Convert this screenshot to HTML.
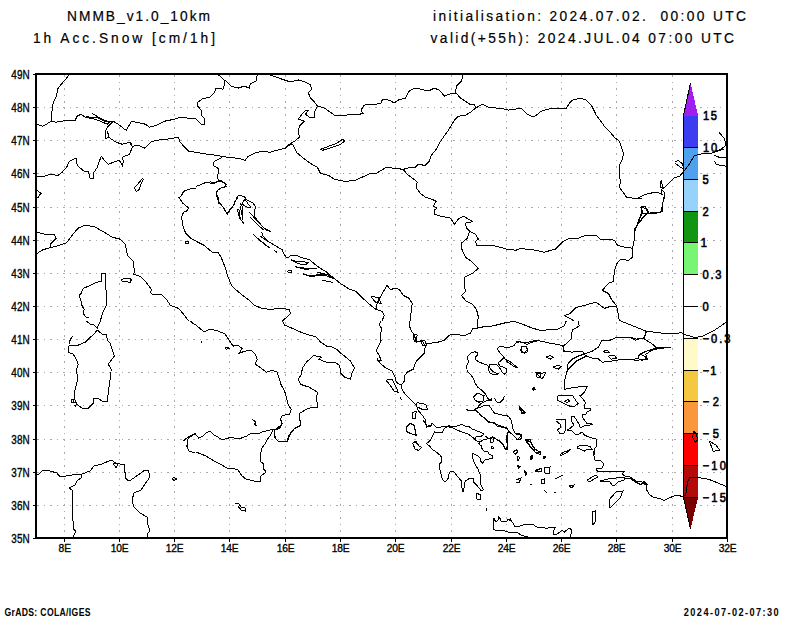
<!DOCTYPE html>
<html><head><meta charset="utf-8"><style>html,body{margin:0;padding:0;background:#fff;width:800px;height:618px;overflow:hidden}svg{display:block}text{white-space:pre}</style></head>
<body><svg width="800" height="618" viewBox="0 0 800 618" shape-rendering="crispEdges">
<g stroke="#aaa" stroke-width="1" stroke-dasharray="1.5 5"><line x1="64.5" y1="75" x2="64.5" y2="537"/><line x1="119.5" y1="75" x2="119.5" y2="537"/><line x1="174.5" y1="75" x2="174.5" y2="537"/><line x1="229.5" y1="75" x2="229.5" y2="537"/><line x1="285.5" y1="75" x2="285.5" y2="537"/><line x1="340.5" y1="75" x2="340.5" y2="537"/><line x1="395.5" y1="75" x2="395.5" y2="537"/><line x1="451.5" y1="75" x2="451.5" y2="537"/><line x1="506.5" y1="75" x2="506.5" y2="537"/><line x1="561.5" y1="75" x2="561.5" y2="537"/><line x1="616.5" y1="75" x2="616.5" y2="537"/><line x1="672.5" y1="75" x2="672.5" y2="537"/><line x1="37" y1="505.5" x2="726" y2="505.5"/><line x1="37" y1="472.5" x2="726" y2="472.5"/><line x1="37" y1="439.5" x2="726" y2="439.5"/><line x1="37" y1="405.5" x2="726" y2="405.5"/><line x1="37" y1="372.5" x2="726" y2="372.5"/><line x1="37" y1="339.5" x2="726" y2="339.5"/><line x1="37" y1="306.5" x2="726" y2="306.5"/><line x1="37" y1="273.5" x2="726" y2="273.5"/><line x1="37" y1="240.5" x2="726" y2="240.5"/><line x1="37" y1="207.5" x2="726" y2="207.5"/><line x1="37" y1="173.5" x2="726" y2="173.5"/><line x1="37" y1="140.5" x2="726" y2="140.5"/><line x1="37" y1="107.5" x2="726" y2="107.5"/></g>
<rect x="684" y="115.5" width="14" height="31.5" fill="#3c3cf0"/><rect x="684" y="147" width="14" height="32" fill="#50a0f0"/><rect x="684" y="179" width="14" height="32" fill="#96d2fa"/><rect x="684" y="211" width="14" height="31" fill="#109610"/><rect x="684" y="242" width="14" height="32" fill="#78f573"/><rect x="684" y="274" width="14" height="64" fill="#ffffff"/><rect x="684" y="338" width="14" height="32" fill="#fffac8"/><rect x="684" y="370" width="14" height="31" fill="#f5c841"/><rect x="684" y="401" width="14" height="32" fill="#fa963c"/><rect x="684" y="433" width="14" height="32.5" fill="#ff0000"/><rect x="684" y="465.5" width="14" height="32.0" fill="#b40a0a"/><polygon points="684,115.5 698,115.5 690.5,83" fill="#a01ef0"/><polygon points="684,497.5 698,497.5 690.5,529" fill="#780000"/><polyline points="690.5,83 683.5,115.5 683.5,497.5 690.5,529" fill="none" stroke="#000" stroke-width="1"/><line x1="683" y1="147.5" x2="698" y2="147.5" stroke="#000" stroke-width="1"/><line x1="683" y1="179.5" x2="698" y2="179.5" stroke="#000" stroke-width="1"/><line x1="683" y1="211.5" x2="698" y2="211.5" stroke="#000" stroke-width="1"/><line x1="683" y1="242.5" x2="698" y2="242.5" stroke="#000" stroke-width="1"/><line x1="683" y1="274.5" x2="698" y2="274.5" stroke="#000" stroke-width="1"/><line x1="683" y1="306.5" x2="698" y2="306.5" stroke="#000" stroke-width="1"/><line x1="683" y1="338.5" x2="698" y2="338.5" stroke="#000" stroke-width="1"/><line x1="683" y1="370.5" x2="698" y2="370.5" stroke="#000" stroke-width="1"/><line x1="683" y1="401.5" x2="698" y2="401.5" stroke="#000" stroke-width="1"/><line x1="683" y1="433.5" x2="698" y2="433.5" stroke="#000" stroke-width="1"/><line x1="683" y1="465.5" x2="698" y2="465.5" stroke="#000" stroke-width="1"/><line x1="683" y1="497.5" x2="698" y2="497.5" stroke="#000" stroke-width="1"/><g font-family="Liberation Sans" fill="#000" stroke="#000" stroke-width="0.6"><text transform="scale(0.9 1)" x="781.11" y="120.5" font-size="12.4" font-weight="normal" textLength="15.56" lengthAdjust="spacing" >15</text><text transform="scale(0.9 1)" x="781.11" y="152" font-size="12.4" font-weight="normal" textLength="15.89" lengthAdjust="spacing" >10</text><text transform="scale(0.9 1)" x="780.56" y="184" font-size="12.4" font-weight="normal" textLength="7.78" lengthAdjust="spacing" >5</text><text transform="scale(0.9 1)" x="780.56" y="216" font-size="12.4" font-weight="normal" textLength="7.78" lengthAdjust="spacing" >2</text><text transform="scale(0.9 1)" x="778.67" y="247" font-size="12.4" font-weight="normal" textLength="6.11" lengthAdjust="spacing" >1</text><text transform="scale(0.9 1)" x="780.56" y="279" font-size="12.4" font-weight="normal" textLength="21.11" lengthAdjust="spacing" >0.3</text><text transform="scale(0.9 1)" x="780.56" y="311" font-size="12.4" font-weight="normal" textLength="7.78" lengthAdjust="spacing" >0</text><text transform="scale(0.9 1)" x="780.56" y="343" font-size="12.4" font-weight="normal" textLength="31.11" lengthAdjust="spacing" >−0.3</text><text transform="scale(0.9 1)" x="780.56" y="375" font-size="12.4" font-weight="normal" textLength="15.56" lengthAdjust="spacing" >−1</text><text transform="scale(0.9 1)" x="780.56" y="406" font-size="12.4" font-weight="normal" textLength="18.33" lengthAdjust="spacing" >−2</text><text transform="scale(0.9 1)" x="780.56" y="438" font-size="12.4" font-weight="normal" textLength="18.33" lengthAdjust="spacing" >−5</text><text transform="scale(0.9 1)" x="780.56" y="470" font-size="12.4" font-weight="normal" textLength="26.11" lengthAdjust="spacing" >−10</text><text transform="scale(0.9 1)" x="780.56" y="502" font-size="12.4" font-weight="normal" textLength="26.11" lengthAdjust="spacing" >−15</text></g>
<defs><clipPath id="mapclip"><rect x="36" y="74" width="691" height="464"/></clipPath></defs><g fill="none" stroke="#000" stroke-width="1" shape-rendering="crispEdges" clip-path="url(#mapclip)"><polyline points="69.1,75.0 64.1,81.0 58.1,88.1 56.1,97.1 53.1,103.1 52.1,110.1 51.1,116.2 52.1,121.2 53.1,121.6"/><polyline points="36.0,124.2 43.0,126.2 48.0,123.2 51.1,121.2 56.1,122.2 62.1,121.2 69.1,120.2 75.2,120.2 77.2,116.2 81.2,114.2 85.2,117.2 90.2,118.2 96.2,117.2 104.3,121.2 113.3,121.2 118.3,124.2 124.4,129.2 126.4,130.2 131.4,121.2 136.4,122.2 145.4,124.2 149.5,127.2 156.5,125.2 164.5,121.2 174.6,119.2 180.6,117.2 188.6,118.2 196.0,118.2"/><polyline points="92.2,113.6 100.3,118.2 109.3,122.2 107.3,124.2 100.3,121.2 86.2,116.2"/><polyline points="112.3,122.2 107.3,127.2 105.3,131.2 105.3,138.3 109.3,137.7 107.3,131.2"/><polyline points="109.3,137.7 116.3,142.3 122.3,144.3 129.4,142.3 132.4,146.3 138.4,145.3 144.4,148.3 150.5,142.3 156.5,140.3 166.5,139.3 178.6,137.3 179.6,141.3 184.6,147.3 188.6,151.3 196.0,152.3"/><polyline points="36.0,176.4 44.0,176.4 50.1,174.4 58.1,175.4 62.1,172.4 67.1,166.4 69.1,161.4 73.1,159.3 76.2,158.3 77.2,165.4 84.2,171.4 88.2,171.4 90.2,178.4 93.2,178.4 93.2,173.4 97.2,167.4 99.3,161.4 101.3,156.3 105.3,161.4 108.3,164.4 115.3,161.4 119.3,160.3 122.3,165.4 123.3,161.4 122.3,157.3 129.4,154.3 132.4,147.3 130.8,142.3"/><polyline points="142.4,178.4 138.4,183.4 134.4,187.5 136.4,191.5 139.4,189.5 140.4,185.4 143.4,179.4"/><polyline points="36.0,189.1 41.0,193.5 38.0,197.1"/><polyline points="180.6,197.1 183.6,191.5 188.6,189.1 196.0,188.5"/><polyline points="196.0,325.0 204.0,332.0 210.1,329.0 218.1,331.0 225.1,334.1 229.1,340.1 233.1,346.1 237.2,345.1 242.2,348.1 239.2,353.1 245.2,351.1 251.2,350.1 255.2,354.1 257.2,359.2 255.2,364.2 261.3,368.2 266.3,372.2 272.3,370.2 277.3,372.2 279.3,379.2 281.3,385.3 284.4,390.3 286.4,397.3 288.4,405.3 291.4,409.4 289.4,414.4 282.3,415.4 280.3,419.4 282.3,423.4 280.3,427.4 274.3,430.4 275.3,438.5 278.3,441.5 287.4,441.5 289.4,435.5 294.4,428.4 300.4,425.4 299.4,413.4 306.4,409.4 311.5,407.3 317.5,407.3 316.5,397.3 317.5,392.3 309.5,387.3 300.4,384.3 298.4,379.2 301.4,374.2 302.4,368.2 306.4,362.2 313.5,355.5 321.5,357.1 318.5,359.2 326.5,362.2 334.6,362.2 339.6,365.2 340.6,373.2 344.6,377.2 350.6,379.2 351.6,374.2 354.6,368.2 350.6,361.2 344.6,356.1 340.6,353.1 337.6,350.1 332.5,347.1 326.5,346.1 320.5,342.1 316.5,337.1 309.5,335.1 300.4,332.0 291.4,328.0 284.4,325.0 282.3,321.0"/><polyline points="201.0,341.1 201.6,343.1"/><polyline points="225.1,347.5 228.1,347.1 229.1,348.7 226.1,349.1 225.1,347.5"/><polyline points="252.2,419.4 255.2,421.4 256.2,426.4 254.2,423.4"/><polyline points="187.5,447.0 187.5,445.0 188.1,438.1 191.3,436.3 195.0,433.8 198.8,438.1 202.5,436.3 206.3,432.5 210.0,431.3 213.8,435.0 217.5,436.9 221.3,439.4 226.3,438.8 230.0,437.5 235.0,438.1 241.3,438.1 246.3,436.3 250.0,433.8 258.8,433.8 262.5,431.9 267.5,430.6 273.1,429.4 276.3,430.0 280.0,428.1"/><polyline points="273.1,429.4 270.3,435.5 267.0,440.0 265.3,444.0"/><polyline points="381.1,321.0 379.1,325.0 382.1,329.0 380.1,334.1 381.1,341.1 378.1,347.1 376.1,351.1 379.1,355.1 381.1,360.2 378.1,361.2 377.1,358.1 380.1,363.2 386.1,368.2 392.1,371.2 395.2,377.2 396.2,382.2 401.2,385.3 402.2,390.3 406.2,395.3 411.2,400.3 416.2,405.3 418.2,410.4 422.3,415.4 425.3,419.4 426.3,426.4 431.3,425.0"/><polyline points="416.2,405.3 417.2,402.9 422.3,403.3 426.3,405.3 427.3,409.4 422.3,409.4 418.2,407.3"/><polyline points="409.2,321.0 410.2,329.0 414.2,335.1 416.2,341.1 422.3,341.1 425.3,346.1 424.3,353.1 420.3,357.1 416.2,361.2 413.2,369.2 407.2,372.2 404.2,376.2 404.2,381.2 401.2,385.3"/><polyline points="413.2,334.1 417.2,335.1 416.2,342.1 414.2,341.1 413.2,334.1"/><polyline points="420.3,340.1 425.3,341.1 426.3,345.1 422.3,345.1 420.3,340.1"/><polyline points="424.3,344.1 431.3,343.1 438.3,342.1 444.4,340.1 449.4,335.1 456.4,334.1 460.4,335.1 465.4,335.1 470.5,333.0 472.5,329.0 482.5,327.0 492.5,326.0 504.6,323.0 516.0,321.0"/><polyline points="477.5,321.0 477.5,328.0"/><polyline points="386.1,380.2 392.1,379.2 396.2,387.3 398.2,392.3 394.2,391.3 390.1,385.3 386.1,380.2"/><polyline points="400.2,397.3 401.2,399.7"/><polyline points="412.2,412.4 416.2,411.4 415.2,418.4 412.2,418.4 412.2,412.4"/><polyline points="406.2,427.4 410.2,423.4 414.2,425.4 416.2,435.5 410.2,433.4 406.2,431.4 406.2,427.4"/><polyline points="414.2,442.5 416.2,441.5 418.2,445.1"/><polyline points="475.0,351.7 477.6,353.0 477.6,355.5 475.0,356.8 475.0,359.4 478.9,362.0 484.0,364.0 487.9,365.3 488.6,370.4 489.9,373.0 493.1,374.3 497.6,375.0 498.3,373.7 494.4,372.4 491.8,370.4 489.2,367.2 489.9,364.0 493.8,364.0 497.6,365.3 499.6,367.8 501.5,371.1 504.1,374.3 506.1,373.0 506.1,368.5 503.5,367.2 499.6,365.9 498.3,362.7 500.9,360.7 503.5,358.1 509.9,361.4 514.5,365.3 517.7,367.8 515.1,367.2 507.4,362.0 503.5,356.8 500.2,353.0 497.6,349.7 498.3,347.1 502.2,346.5 506.1,347.8 509.9,347.1 513.8,345.8 516.4,342.6 519.0,341.9 522.9,342.6 526.8,344.5 530.7,342.6 534.6,341.3 540.0,340.6"/><polyline points="524.2,346.2 526.8,347.1 527.8,349.7 526.8,352.3 524.2,353.2 521.6,352.3 520.6,349.7 521.6,347.1 524.2,346.2"/><polyline points="475.0,351.7 471.1,353.0 467.8,356.2 467.8,359.4 468.5,362.0 466.6,365.9 467.2,371.1 471.1,375.0 473.7,378.9 475.0,382.7 477.6,387.3 481.5,389.9 484.7,393.1 486.6,396.3 488.6,399.6 491.2,398.9 491.8,400.2 489.2,400.9 486.6,400.9 483.4,402.2 480.2,404.1 477.6,407.4 475.0,409.9 471.1,410.6 467.2,409.9"/><polyline points="473.7,397.0 477.6,393.1 484.0,395.7 483.4,400.9 478.9,402.2 475.0,400.2 473.7,397.0"/><polyline points="494.4,398.3 497.0,402.2 499.6,402.8 503.5,398.9 504.1,396.3"/><polyline points="519.0,406.7 525.5,412.5 522.9,413.8 519.0,408.7 519.0,406.7"/><polyline points="535.9,372.4 540.0,372.4 540.0,377.6 537.2,377.6 535.9,372.4"/><polyline points="533.3,387.9 535.2,389.0 533.5,390.0 533.3,387.9"/><polyline points="516.0,322.0 522.0,324.0 532.1,328.0 542.1,331.0 550.1,329.0 558.2,329.0 564.2,326.0 566.2,321.0"/><polyline points="578.2,321.0 579.3,326.0 572.2,330.0 571.2,339.1 567.2,343.1 563.2,346.1 563.2,351.1 572.2,352.1 582.3,351.1 584.3,354.1"/><polyline points="584.3,354.1 592.3,351.1 598.3,347.1 602.3,340.1 610.4,340.1 617.4,337.1 630.5,337.1 636.5,339.1 644.5,338.1 646.5,331.0"/><polyline points="644.5,339.1 652.5,344.1 656.6,348.1 670.6,347.1"/><polyline points="584.3,354.1 578.2,356.1 572.2,359.2 568.2,363.2 567.2,370.2 571.2,366.2 576.2,361.2 582.3,358.1 586.3,355.1"/><polyline points="567.2,371.2 565.2,377.2 564.2,389.3 574.2,387.3 587.3,386.3 584.3,392.3 580.3,396.3 579.3,395.3"/><polyline points="576.2,361.2 586.3,356.1 592.3,358.1 597.3,358.1 602.3,362.2 610.4,361.2 616.4,360.2 624.4,359.2 636.5,360.2 647.5,359.2 644.5,356.1 640.5,354.1 646.5,351.1 656.6,349.1 670.6,347.1"/><polyline points="603.8,351.1 607.4,350.5 609.4,352.1 605.4,352.7 603.8,351.1"/><polyline points="608.4,356.1 614.4,355.5 616.4,358.1 611.4,359.2 608.4,356.1"/><polyline points="521.0,347.1 525.0,346.1 527.6,349.1 525.0,352.7 521.0,351.1 521.0,347.1"/><polyline points="546.1,357.1 550.1,355.5 553.1,357.5 550.1,359.2 546.1,357.1"/><polyline points="553.1,367.2 558.2,365.2 561.2,366.8 558.2,369.2 553.1,367.2"/><polyline points="536.1,373.2 541.1,373.6 546.1,372.2 542.1,379.2 539.1,376.2 536.1,373.2"/><polyline points="532.1,388.3 534.5,387.3 535.1,389.7 533.1,390.3 532.1,388.3"/><polyline points="520.0,407.3 525.0,412.4 522.0,413.4 520.0,407.3"/><polyline points="516.0,433.4 521.0,435.5 518.0,439.5"/><polyline points="526.0,439.5 530.1,441.5 533.1,445.1"/><polyline points="620.0,320.7 632.9,325.9 645.9,331.1 661.4,333.1 676.9,333.6 680.8,332.3 686.0,334.9 695.1,337.5 702.8,336.2 713.2,331.1 720.9,325.9 726.1,322.0 731.3,319.4"/><polyline points="645.9,331.1 644.6,337.5 635.5,340.1 630.4,337.5 620.0,337.5"/><polyline points="620.0,359.5 630.4,360.0 638.1,358.2 639.4,354.3 644.6,351.8 656.2,347.9 670.5,347.1 653.6,349.2 645.9,354.3 647.2,358.2 640.7,360.8"/><polyline points="693.8,430.7 696.3,434.6 697.6,439.8 695.1,442.3 692.5,437.2 693.8,430.7"/><polyline points="709.3,441.0 715.8,444.9 719.6,450.1 713.2,451.4 709.3,441.0"/><polyline points="516.0,341.4 526.7,342.8 536.0,340.0 548.0,342.8 562.8,345.5 564.0,350.8 570.8,352.0"/><polyline points="36.0,475.0 39.0,474.0 43.0,470.0 50.0,471.0 57.0,473.0 60.0,477.0 66.0,476.0 72.0,475.0 82.0,474.0 90.0,471.0 94.0,466.0 102.0,464.0 111.0,460.0 116.0,463.0 120.0,464.0 125.0,465.0 124.0,470.0 126.0,475.0 125.0,478.0 129.0,481.0 134.0,478.0 138.0,475.0 145.0,470.0 148.0,470.0 150.0,476.0 148.0,480.0 145.0,484.0 141.0,490.0 134.0,493.0 132.0,500.0 134.0,507.0 140.0,513.0 147.0,517.0 148.0,525.0 150.0,531.0 147.0,534.0 147.0,539.0"/><polyline points="113.0,464.0 115.0,462.6 118.0,465.0 116.0,467.4 113.0,464.0"/><polyline points="82.0,474.0 81.0,478.0 77.0,481.0 75.0,485.0 69.0,488.0 72.0,490.0 73.0,497.0 72.0,505.0 72.0,513.0 73.0,521.0 73.0,529.0 76.0,531.0 72.0,539.0"/><polyline points="172.0,478.6 174.0,477.0 176.4,479.0 174.0,480.6 172.0,478.6"/><polyline points="186.0,445.0 189.0,451.0 195.4,453.0"/><polyline points="265.0,444.0 262.0,448.0 260.0,456.0 261.0,462.0 264.0,464.0 263.0,468.0 266.0,472.0 261.0,476.0 260.0,482.0 254.0,481.0 246.0,479.0 242.0,476.0 238.0,470.0 232.0,468.0 227.0,468.0 220.0,464.0 214.0,461.0 206.0,456.0 196.0,452.0"/><polyline points="282.0,420.0 281.0,425.0 276.0,429.0 274.0,429.0 275.0,438.0 278.0,441.0 287.0,441.0 289.0,435.0 294.0,429.0 300.0,426.0 301.0,420.0"/><polyline points="235.0,503.0 239.0,504.0 241.0,507.0 245.0,508.0 245.0,511.0 241.0,510.0 238.0,506.0"/><polyline points="476.0,493.0 481.0,495.0 480.0,500.0 477.0,499.0 476.0,493.0"/><polyline points="486.0,508.0 487.0,511.0"/><polyline points="475.0,409.1 478.9,407.8 485.3,405.2 489.2,405.8 494.4,413.0 500.9,414.9 508.7,416.2 511.2,420.7 513.2,429.8 515.1,433.0 521.0,434.3 521.6,438.9 517.7,439.5 514.5,436.3 509.9,432.4 506.7,427.8 502.2,426.6 495.7,424.0 487.9,421.4 484.0,418.1 478.9,413.0 475.0,409.1"/><polyline points="465.9,409.7 469.8,411.0 475.0,410.4 478.9,413.0 481.5,416.2 486.6,419.4 487.9,422.0 494.4,422.7 497.0,425.9 502.2,427.2 506.7,428.5 509.9,431.7 507.4,433.7 506.1,438.9 507.4,444.0 507.4,449.9 505.4,449.9 503.5,445.3 499.6,441.5 495.7,438.9 493.8,437.6 491.2,438.2 489.2,438.9 484.7,435.6"/><polyline points="519.0,406.5 525.5,412.3 522.9,413.6 519.0,408.4 519.0,406.5"/><polyline points="513.2,451.8 516.4,449.9 517.7,451.8 515.1,454.4 513.2,451.8"/><polyline points="517.7,455.7 519.3,457.6 518.8,459.8 517.1,460.9 517.7,455.7"/><polyline points="517.7,464.8 520.3,466.7 518.4,468.7 517.7,464.8"/><polyline points="524.2,470.6 526.8,473.8 525.5,475.1 524.2,470.6"/><polyline points="530.7,455.7 532.6,455.7 532.0,459.6 530.7,459.6 530.7,455.7"/><polyline points="525.5,438.9 530.7,442.7 534.6,449.2 540.0,451.8 540.0,454.4 535.9,453.1 530.7,447.3 526.1,441.5 525.5,438.9"/><polyline points="534.6,470.6 540.0,468.7"/><polyline points="426.2,443.3 429.4,441.4 431.4,438.8 432.7,435.5 434.6,431.7 437.8,433.0 442.4,432.3 444.3,428.4 447.6,426.5 452.7,427.8 457.9,430.4 463.1,432.3 468.3,434.2 473.5,438.1 477.4,441.4 479.9,442.0 478.7,444.0 481.2,445.9 481.9,448.5 484.5,451.7 487.7,451.7 489.0,454.3 492.3,455.6 492.9,458.2 489.0,458.9 484.5,460.2 482.5,463.4 481.2,462.7 480.6,458.9 477.4,455.6 472.2,453.0 472.2,456.3 474.8,464.0 478.0,469.2 480.6,475.7 480.6,480.9 481.2,486.1 483.8,489.9 481.2,490.6 477.4,486.1 473.5,482.2 473.5,478.9 469.6,478.3 465.7,480.9 464.4,483.5 463.8,489.9 463.1,491.9 461.8,487.4 461.2,480.9 457.9,477.0 454.0,471.8 450.2,471.8 448.9,474.4 448.2,478.3 446.3,480.9 444.3,481.5 442.4,479.6 441.1,474.4 439.8,469.2 439.1,464.7 441.7,461.5 441.7,457.6 439.8,455.0 435.9,451.7 432.7,449.8 429.4,445.9 426.2,443.3"/><polyline points="423.0,420.0 425.5,423.9 426.8,427.1 430.7,426.5 432.0,423.2 434.0,425.2 435.9,427.1 439.8,427.1 445.0,426.5 448.9,425.8 454.0,426.5 457.9,425.8 461.8,424.5 464.4,425.8 467.0,427.1 468.9,426.5 472.2,429.1 477.4,431.0 480.6,432.3 483.8,434.2 481.2,436.2 476.1,436.8 474.8,439.4 477.4,441.4"/><polyline points="479.9,442.0 483.8,439.4 489.0,438.8 492.9,436.8 495.5,438.8 500.7,441.4 503.3,444.6 505.9,449.8 507.2,447.2 507.2,434.2 508.4,430.4 505.9,427.1"/><polyline points="490.3,438.1 494.2,437.5 492.9,442.0 491.0,442.7 490.3,438.1"/><polyline points="491.0,446.6 493.5,447.2 492.9,449.1 491.6,448.5 491.0,446.6"/><polyline points="412.6,443.3 415.2,441.4 419.1,445.9 421.7,447.2 418.4,450.4 415.2,449.1 412.6,443.3"/><polyline points="593.0,451.0 595.0,460.0 600.0,460.0 604.0,464.0 602.0,468.0 596.0,469.0 598.0,472.0 604.0,471.0 616.0,471.0 625.0,471.0 622.0,474.0 625.0,476.0 630.0,477.0 636.0,481.0 642.0,482.0 646.0,485.0"/><polyline points="600.0,481.0 608.0,479.0 616.0,478.0 620.0,477.0 625.0,478.0 624.0,480.0 618.0,482.0 614.0,486.0 612.0,485.0 610.0,482.0 600.0,481.0"/><polyline points="587.0,480.0 596.0,475.0 598.0,477.0 589.0,482.0 587.0,480.0"/><polyline points="609.0,500.0 616.0,492.0 623.0,491.0 620.0,498.0 614.0,504.0 610.0,508.0 609.0,500.0"/><polyline points="592.0,512.0 595.0,511.0 595.0,522.0 593.0,525.0 592.0,512.0"/><polyline points="526.0,440.0 530.0,439.0 532.0,445.0 535.0,449.0 540.0,452.0 536.0,453.0 530.0,446.0 526.0,440.0"/><polyline points="516.0,434.0 521.0,434.0 522.0,438.0 518.0,440.0 516.0,439.0"/><polyline points="543.0,456.0 546.0,457.0 544.0,458.4 543.0,456.0"/><polyline points="544.0,468.0 550.0,467.0 549.0,474.0 545.0,473.0 544.0,468.0"/><polyline points="535.0,472.0 541.0,468.0 542.0,471.0 535.0,472.0"/><polyline points="555.0,479.0 563.0,475.0"/><polyline points="541.0,480.0 544.0,479.0 544.0,483.0 541.0,483.0 541.0,480.0"/><polyline points="544.0,490.0 547.0,493.0"/><polyline points="569.0,486.0 574.0,485.0 572.0,488.0 569.0,486.0"/><polyline points="531.0,455.6 533.0,458.0 531.0,459.0 531.0,455.6"/><polyline points="516.0,480.0 521.0,478.0 519.0,483.0 516.0,482.0"/><polyline points="517.0,450.0 518.0,452.0"/><polyline points="517.0,458.0 518.4,460.0"/><polyline points="518.0,466.0 520.0,468.0"/><polyline points="525.0,471.0 527.0,474.0"/><polyline points="530.0,484.0 531.6,485.0"/><polyline points="554.0,492.4 556.0,493.0"/><polyline points="527.5,537.0 521.0,535.0 518.0,533.0 508.0,532.0 503.0,530.5 495.0,530.0 493.0,529.0 493.5,524.0 494.0,518.5 495.5,521.5 498.0,520.5 498.5,516.5 500.0,518.5 501.0,521.0 506.5,521.5 508.0,519.5 510.5,519.0 511.5,521.5 513.5,523.5 514.5,526.5 520.0,526.0 524.5,524.5 528.0,524.5 530.0,525.0 533.0,524.5 536.5,527.0 544.0,527.5 546.5,528.5 549.0,527.5 555.0,527.5 554.0,530.0 553.5,534.5 557.0,534.0 560.0,532.0 562.0,530.5 564.5,532.0 568.0,529.0 570.0,528.5 571.5,530.0 571.0,534.0 570.0,537.0"/><polyline points="509.5,519.5 510.5,518.8 511.2,520.0 510.0,521.0 509.5,519.5"/><polyline points="623.7,478.2 630.1,478.2 634.4,481.4 640.7,484.6 643.9,481.4 647.1,484.6 646.1,488.9 649.2,494.2 653.5,497.4 659.9,498.4 664.1,500.6 670.5,497.4 675.8,495.2 682.2,496.3 685.4,495.2 686.4,491.0 687.5,482.5 689.6,477.2 696.0,477.2 708.7,479.3 719.4,483.6 726.8,486.7 730.0,487.8"/><polyline points="579.0,395.0 582.0,398.0 586.0,403.0 584.5,405.0 584.5,408.0 590.0,408.0 590.5,410.5 587.0,412.0 586.0,414.0 582.0,414.0 582.5,417.0 585.0,421.0 587.5,424.0 591.0,423.5 592.5,424.5 590.0,425.0 584.0,426.0 581.0,427.5 580.0,427.0 579.0,424.0 576.5,420.0 574.0,416.5 571.5,417.0 571.5,421.0 574.0,425.0 570.5,428.0 567.5,430.0 572.0,431.0 575.0,434.0 578.0,434.5 582.0,432.0 584.5,435.0 587.5,436.5 592.0,438.0 596.0,439.0 596.5,444.0 596.0,447.0 594.0,449.0 594.0,455.0 593.5,456.0"/><polyline points="558.0,396.0 566.0,395.5 573.0,396.0 576.0,401.0 578.0,403.5 575.0,406.0 572.0,407.0 567.0,405.0 563.0,403.0 557.5,400.0 558.0,396.0"/><polyline points="564.0,402.0 568.0,399.5 570.0,401.0 566.0,403.0"/><polyline points="556.0,420.0 560.0,419.0 565.0,419.5 566.0,422.0 565.5,429.0 564.5,433.0 560.0,433.5 557.5,430.0 561.0,427.0 560.0,424.0 556.0,421.0"/><polyline points="577.5,447.0 580.0,445.5 585.0,445.0 590.0,446.5 592.0,449.5 588.0,449.0 584.5,451.0 581.0,449.5 577.5,448.0 577.5,447.0"/><polyline points="560.0,455.0 564.0,452.0 571.0,449.5 566.0,453.0 562.0,455.0 560.0,455.0"/><polyline points="579.0,395.0 580.3,396.3"/><polyline points="216.1,74.0 220.1,76.0 224.1,80.0 225.1,83.0 223.1,89.1 216.1,88.1 214.1,93.1 210.1,97.1 202.0,99.1 198.0,102.1 197.0,105.1 201.0,110.1 201.0,115.2 204.0,118.2 204.0,124.2 201.0,124.2 197.0,120.2 196.0,119.6"/><polyline points="225.1,80.0 231.1,86.1 238.2,88.1 244.2,86.1 249.2,88.1 250.2,84.0 256.2,81.0 257.2,75.0 265.3,74.0 270.3,75.0 284.4,80.0 290.4,82.0 298.4,80.0 305.4,82.0 310.5,85.0 311.5,89.1 308.4,93.1 310.5,98.1 314.5,102.1 317.5,106.1 324.5,108.1 334.6,115.2 344.6,115.2 356.0,114.2"/><polyline points="317.5,106.1 314.5,112.2 314.5,117.2 309.5,117.2 305.4,114.2 308.4,110.1 304.4,111.2 300.4,116.2 298.4,119.2 304.4,121.2 299.4,126.2 298.4,131.2 299.4,137.3 294.4,141.3 289.4,144.3 285.4,148.3"/><polyline points="196.0,152.3 208.0,154.3 216.1,155.3 228.1,157.3 238.2,158.3 245.2,160.3 248.2,156.3 254.2,153.3 262.3,151.3 270.3,152.3 276.3,150.3 285.4,148.3 288.4,145.3 292.4,144.3 294.4,147.3 296.4,152.3 302.4,157.3 310.5,163.4 317.5,167.4 320.5,173.4 328.5,175.4 334.6,179.4 344.6,181.4 356.0,180.4"/><polyline points="222.1,157.3 214.1,161.4 213.1,165.4 218.1,168.4 218.1,173.4 217.1,177.4 219.1,181.4 224.1,182.4 226.1,186.5 222.1,187.5 218.1,189.5 216.1,194.5 217.1,197.1"/><polyline points="196.0,186.5 206.0,182.4 212.1,183.4 219.1,181.4"/><polyline points="320.5,149.3 328.5,146.3 336.6,143.3 342.6,139.3 344.6,141.3 340.6,144.3 332.5,147.3 322.5,150.3 320.5,149.3"/><polyline points="356.0,114.6 360.0,114.2 363.0,113.2 361.0,110.1 364.0,105.1 376.1,104.1 381.1,103.1 382.1,100.1 386.1,99.1 391.1,101.1 394.2,103.1 398.2,100.1 405.2,98.1 409.2,91.1 414.2,88.1 420.3,89.1 424.3,90.1 430.3,90.1 434.3,88.1 439.3,90.1 444.4,96.1 449.4,94.1 456.4,93.1 460.4,98.1 465.4,101.1 469.5,104.1 474.5,104.1 475.5,108.1"/><polyline points="463.4,74.0 461.4,81.0 456.4,86.1 455.4,93.1"/><polyline points="475.5,108.1 482.5,104.1 488.5,107.1 496.6,108.1 504.6,109.1 508.6,110.1 516.0,109.1"/><polyline points="475.5,108.1 470.5,112.2 465.4,115.2 458.4,116.2 454.4,120.2 451.4,125.2 448.4,130.2 443.3,137.3 439.3,143.3 436.3,149.3 431.3,155.3 429.3,161.4 425.3,165.4 418.2,164.4 415.2,167.4 410.2,167.4 403.2,169.4 396.2,168.4 386.1,167.4 381.1,170.4 376.1,173.4 370.1,173.4 364.0,176.4 356.0,179.8"/><polyline points="403.2,169.4 407.2,174.4 414.2,179.4 417.2,182.4 416.2,187.5 420.3,193.5 425.3,197.1"/><polyline points="516.0,109.1 521.0,108.1 526.0,113.2 531.1,116.2 535.1,116.2 541.1,111.2 548.1,109.1 556.2,108.1 566.2,108.1 570.2,102.1 572.2,100.1 580.3,98.1 586.3,100.1 591.3,105.1 596.3,115.2 604.4,126.2 608.4,130.2 614.4,137.3 619.4,141.3 621.4,147.3 623.4,153.3 622.4,159.3 619.4,165.4 619.4,175.4 620.4,181.4 619.4,187.5 622.4,191.5 625.4,195.5 626.4,197.1"/><polyline points="626.4,197.0 629.1,197.6 636.9,198.6 644.6,194.7 652.4,192.8 658.2,192.8 662.1,194.7 661.1,189.8 664.0,191.8 665.0,195.7 663.1,201.5 662.1,211.2 656.3,213.1 646.6,213.1 640.7,220.9 636.9,225.7 634.9,231.6 634.0,239.9"/><polyline points="661.1,189.8 666.0,186.0 673.7,178.2 679.5,176.3 685.4,169.5 690.2,162.7 694.1,155.9 700.9,154.0 712.5,153.0 718.4,151.0 724.2,149.1"/><polyline points="674.7,161.7 678.6,160.7 682.5,163.7 683.4,168.5 679.5,166.6 674.7,162.7"/><polyline points="661.1,180.1 663.1,187.9 660.1,186.9 661.1,180.1"/><polyline points="640.7,207.3 645.6,208.3 647.5,212.2 641.7,219.0 638.8,222.8 640.7,215.1 642.7,211.2 640.7,207.3"/><polyline points="719.3,132.6 724.2,138.4 726.1,145.2 721.3,149.1 716.4,151.0"/><polyline points="713.5,154.9 720.3,157.8 728.1,157.8"/><polyline points="714.5,160.7 716.4,164.6 728.1,166.6"/><polyline points="36.0,232.1 44.0,234.1 54.1,234.1 56.1,238.2 50.1,244.2 51.1,247.2"/><polyline points="36.0,254.2 42.0,250.2 48.0,248.2 56.1,246.2 66.1,243.2 73.1,234.1 78.2,228.1 85.2,225.1 95.2,227.1 102.3,231.1 112.3,237.2 120.3,239.2 125.4,244.2 127.4,255.2 133.4,261.3 134.4,272.3 133.4,274.3 140.4,276.3 145.4,281.3 151.5,289.4 150.5,292.4 152.5,294.4 161.5,294.4 166.5,299.4 170.5,305.4 178.6,308.4 184.6,315.5 188.6,321.1"/><polyline points="101.3,273.3 105.3,273.3 105.3,285.4 106.3,291.4 106.3,305.4 103.3,311.5 101.3,317.5 100.3,321.1"/><polyline points="101.3,273.3 101.3,281.3 96.2,282.3 90.2,285.4 83.2,288.4 81.2,293.4 79.2,295.4 81.2,301.4 82.2,306.4 84.2,309.4 83.2,313.5 86.2,317.5 88.6,317.5"/><polyline points="121.3,279.3 128.4,278.3 131.4,279.3 130.4,282.3 122.3,281.3 121.3,279.3"/><polyline points="178.6,197.0 182.6,203.0 188.6,208.0 186.6,211.1 183.6,212.1 181.6,217.1 182.6,225.1 185.6,233.1 190.6,238.2 196.0,241.2"/><polyline points="185.6,241.2 188.6,241.6 188.6,243.6 185.6,243.2 185.6,241.2"/><polyline points="36.0,197.0 39.0,198.0"/><polyline points="196.0,241.2 204.0,245.2 212.1,252.2 218.1,252.2 221.1,257.2 225.1,267.3 228.1,277.3 232.1,286.4 240.2,293.4 248.2,299.4 254.2,305.4 262.3,308.4 270.3,309.4 280.3,308.4 289.4,309.4 290.4,313.5 286.4,317.5 282.3,321.1"/><polyline points="218.1,197.0 219.1,203.0 224.1,208.0 227.1,214.1 230.1,209.0 233.1,206.0 235.2,201.0 238.2,197.0"/><polyline points="210.0,181.5 214.0,183.5 217.0,181.5 220.0,180.0"/><polyline points="220.0,180.0 223.0,182.0 226.0,184.5 225.5,187.0 222.0,187.5 219.5,189.0 217.0,191.0 216.5,193.0 217.5,197.5 218.5,203.0 220.0,203.0 223.0,207.0 225.0,211.0 227.5,214.0 229.5,211.0 231.5,208.0 234.0,205.0 235.5,202.5 236.5,198.5 238.0,196.0 241.0,195.5 244.5,197.0 247.0,200.0 250.0,201.5 253.0,203.0 255.5,207.0 254.5,211.0 254.0,216.0 257.0,220.0 262.0,226.0 266.0,230.0 271.0,231.5"/><polyline points="237.0,209.0 239.0,210.0 240.0,217.0 241.0,220.0 244.0,223.5 242.0,221.0 239.5,218.0 238.0,212.0 237.0,209.0"/><polyline points="240.0,203.0 242.0,206.0 242.5,213.0 243.0,220.0 241.5,212.0 240.0,206.0"/><polyline points="245.0,199.0 242.0,204.0 245.0,206.0 249.0,208.0 251.0,207.0 248.0,204.0 245.0,199.0"/><polyline points="249.0,212.0 252.0,215.0 258.0,222.0 264.0,228.0 271.0,231.5"/><polyline points="250.0,217.0 255.0,222.0 260.0,227.0 264.0,230.0"/><polyline points="261.7,231.8 263.0,235.7 269.4,242.2 275.9,246.1 282.4,250.0 283.7,253.9 286.3,257.1 288.9,257.1 290.2,255.8 297.9,255.8 301.8,257.7 309.6,259.7 314.8,264.2 319.9,268.1 326.4,272.0 334.2,278.5 340.7,283.7 350.0,289.5"/><polyline points="253.2,234.4 260.4,240.9 269.4,248.0 268.1,246.7 259.1,239.6 253.2,234.4"/><polyline points="259.7,235.7 270.1,242.8"/><polyline points="274.0,250.0 277.2,252.6"/><polyline points="290.8,259.7 295.3,261.0 308.3,262.3 305.7,264.9 297.9,263.6 290.8,259.7"/><polyline points="295.3,266.8 304.4,268.1 317.4,268.1 305.7,269.4 295.3,266.8"/><polyline points="303.1,273.9 310.9,275.9 322.5,273.9 330.3,274.6 321.2,275.2 310.9,276.5 303.1,273.9"/><polyline points="322.5,280.4 332.9,282.4"/><polyline points="287.6,270.7 291.5,271.0 291.5,272.3 287.6,272.0 287.6,270.7"/><polyline points="317.4,272.0 327.7,274.6 332.9,278.5 326.4,275.9 317.4,272.0"/><polyline points="425.3,197.0 436.3,201.0 433.3,206.0 437.3,208.0 434.3,210.1 434.3,214.1 440.3,216.1 450.4,218.1 454.4,224.1 458.4,219.1 463.4,216.1 468.4,219.1 472.5,221.1 470.5,222.1 465.4,223.1 466.4,228.1 469.5,231.1"/><polyline points="469.5,231.1 475.5,234.1 478.5,239.2 475.5,241.2 476.5,245.2 486.5,245.2 496.6,246.2 506.6,249.2 516.0,250.2"/><polyline points="469.5,231.1 467.4,238.2 461.4,243.2 461.4,248.2 465.4,257.2 471.5,261.3 478.5,268.3 472.5,273.3 464.4,277.3 464.4,285.4 465.4,291.4 461.4,295.4 466.4,301.4 472.5,304.4 476.5,309.4 478.5,317.5 477.5,321.1"/><polyline points="356.0,291.4 360.0,295.4 364.0,299.4 372.1,306.4 376.1,309.4 382.1,311.5 384.1,315.5 382.1,321.1"/><polyline points="371.1,296.4 378.1,297.4 381.1,303.4 376.1,302.4 373.1,299.4 371.1,296.4"/><polyline points="376.1,309.4 377.1,303.4 380.1,297.4 384.1,290.4 387.1,285.4 390.1,289.4 396.2,288.4 399.2,289.4 403.2,295.4 409.2,298.4 412.2,303.4 411.2,311.5 410.2,321.1"/><polyline points="349.5,289.3 356.5,291.6"/><polyline points="516.0,250.2 521.0,248.2 526.0,249.2 536.1,250.2 544.1,252.2 555.2,249.2 562.2,242.2 569.2,238.2 578.2,238.2 586.3,235.2 596.3,235.2 600.3,239.2 606.4,239.2 614.4,240.2 617.4,245.2 624.4,247.2 632.5,248.2"/><polyline points="632.5,248.2 632.5,257.2 628.4,260.3 620.4,259.2 616.4,264.3 614.4,271.3 613.4,281.3 608.4,283.3 602.3,290.4 608.4,293.4 611.4,299.4 616.4,305.4 617.4,309.4 619.4,321.1"/><polyline points="632.5,248.2 634.5,239.2 634.5,229.1 637.5,225.1 638.5,220.1 642.5,213.1 648.5,213.1 660.6,212.1 662.6,205.0 663.6,197.0"/><polyline points="641.5,206.0 645.5,207.0 648.5,212.1 643.5,217.1 638.5,223.1 641.5,213.1 641.5,206.0"/><polyline points="627.4,197.0 636.5,199.0 642.5,198.0"/><polyline points="564.2,315.5 570.2,313.5 576.2,307.4 584.3,305.4 591.3,303.4 596.3,302.4 604.4,308.4 610.4,306.4 617.4,306.4"/><polyline points="564.2,315.5 570.2,318.5 574.2,321.1"/><polyline points="86.2,321.0 90.2,324.0 94.2,325.0 97.2,328.0 100.3,321.0"/><polyline points="97.2,330.0 102.3,334.1 106.3,334.1 107.3,340.1 110.3,343.1 111.3,347.1 114.3,356.1 111.3,360.2 108.3,364.2 111.3,369.2 110.3,377.2 109.3,385.3 108.3,392.3 107.3,401.3 102.3,401.3 98.2,398.3 93.2,398.3 93.2,403.3 88.2,408.3 82.2,408.3 78.2,405.3 75.2,401.3 74.2,395.3 75.2,389.3 77.2,381.2 77.2,375.2 76.2,370.2 78.2,364.2 76.2,359.2 73.1,354.1 68.1,352.1 69.1,345.1 78.2,345.1 85.2,342.1 89.2,338.1 93.2,335.1 97.2,330.0"/><polyline points="69.1,344.1 70.1,340.1 72.5,336.1"/><polyline points="71.1,399.3 73.1,399.7 74.2,402.3 71.7,402.9 71.1,399.3"/><polyline points="74.2,402.3 76.2,403.3 75.8,406.3 74.2,405.3"/><polyline points="190.6,321.0 193.6,324.0 196.0,325.0"/><polyline points="182.6,441.5 188.6,436.5 196.0,433.4"/></g>
<rect x="36" y="74" width="691" height="464" fill="none" stroke="#000" stroke-width="2"/>
<g stroke="#000" stroke-width="1"><line x1="33" y1="538.5" x2="36" y2="538.5"/><line x1="33" y1="505.5" x2="36" y2="505.5"/><line x1="33" y1="472.5" x2="36" y2="472.5"/><line x1="33" y1="439.5" x2="36" y2="439.5"/><line x1="33" y1="405.5" x2="36" y2="405.5"/><line x1="33" y1="372.5" x2="36" y2="372.5"/><line x1="33" y1="339.5" x2="36" y2="339.5"/><line x1="33" y1="306.5" x2="36" y2="306.5"/><line x1="33" y1="273.5" x2="36" y2="273.5"/><line x1="33" y1="240.5" x2="36" y2="240.5"/><line x1="33" y1="207.5" x2="36" y2="207.5"/><line x1="33" y1="173.5" x2="36" y2="173.5"/><line x1="33" y1="140.5" x2="36" y2="140.5"/><line x1="33" y1="107.5" x2="36" y2="107.5"/><line x1="33" y1="74.5" x2="36" y2="74.5"/><line x1="64.5" y1="538" x2="64.5" y2="542"/><line x1="119.5" y1="538" x2="119.5" y2="542"/><line x1="174.5" y1="538" x2="174.5" y2="542"/><line x1="229.5" y1="538" x2="229.5" y2="542"/><line x1="285.5" y1="538" x2="285.5" y2="542"/><line x1="340.5" y1="538" x2="340.5" y2="542"/><line x1="395.5" y1="538" x2="395.5" y2="542"/><line x1="451.5" y1="538" x2="451.5" y2="542"/><line x1="506.5" y1="538" x2="506.5" y2="542"/><line x1="561.5" y1="538" x2="561.5" y2="542"/><line x1="616.5" y1="538" x2="616.5" y2="542"/><line x1="672.5" y1="538" x2="672.5" y2="542"/><line x1="727.5" y1="538" x2="727.5" y2="542"/></g>
<g font-family="Liberation Sans" fill="#000" stroke="#000" stroke-width="0.35"><text transform="scale(0.8 1)" x="14.12" y="543" font-size="12.4" font-weight="normal" textLength="23.12" lengthAdjust="spacing" >35N</text><text transform="scale(0.8 1)" x="14.12" y="510" font-size="12.4" font-weight="normal" textLength="23.12" lengthAdjust="spacing" >36N</text><text transform="scale(0.8 1)" x="14.12" y="477" font-size="12.4" font-weight="normal" textLength="23.12" lengthAdjust="spacing" >37N</text><text transform="scale(0.8 1)" x="14.12" y="444" font-size="12.4" font-weight="normal" textLength="23.12" lengthAdjust="spacing" >38N</text><text transform="scale(0.8 1)" x="14.12" y="410" font-size="12.4" font-weight="normal" textLength="23.12" lengthAdjust="spacing" >39N</text><text transform="scale(0.8 1)" x="14.12" y="377" font-size="12.4" font-weight="normal" textLength="23.12" lengthAdjust="spacing" >40N</text><text transform="scale(0.8 1)" x="14.12" y="344" font-size="12.4" font-weight="normal" textLength="23.12" lengthAdjust="spacing" >41N</text><text transform="scale(0.8 1)" x="14.12" y="311" font-size="12.4" font-weight="normal" textLength="23.12" lengthAdjust="spacing" >42N</text><text transform="scale(0.8 1)" x="14.12" y="278" font-size="12.4" font-weight="normal" textLength="23.12" lengthAdjust="spacing" >43N</text><text transform="scale(0.8 1)" x="14.12" y="245" font-size="12.4" font-weight="normal" textLength="23.12" lengthAdjust="spacing" >44N</text><text transform="scale(0.8 1)" x="14.12" y="212" font-size="12.4" font-weight="normal" textLength="23.12" lengthAdjust="spacing" >45N</text><text transform="scale(0.8 1)" x="14.12" y="178" font-size="12.4" font-weight="normal" textLength="23.12" lengthAdjust="spacing" >46N</text><text transform="scale(0.8 1)" x="14.12" y="145" font-size="12.4" font-weight="normal" textLength="23.12" lengthAdjust="spacing" >47N</text><text transform="scale(0.8 1)" x="14.12" y="112" font-size="12.4" font-weight="normal" textLength="23.12" lengthAdjust="spacing" >48N</text><text transform="scale(0.8 1)" x="14.12" y="79" font-size="12.4" font-weight="normal" textLength="23.12" lengthAdjust="spacing" >49N</text><text transform="scale(0.9 1)" x="65.00" y="552" font-size="11.4" font-weight="normal" textLength="13.89" lengthAdjust="spacing" >8E</text><text transform="scale(0.9 1)" x="123.17" y="552" font-size="11.4" font-weight="normal" textLength="19.78" lengthAdjust="spacing" >10E</text><text transform="scale(0.9 1)" x="184.28" y="552" font-size="11.4" font-weight="normal" textLength="19.78" lengthAdjust="spacing" >12E</text><text transform="scale(0.9 1)" x="245.39" y="552" font-size="11.4" font-weight="normal" textLength="19.78" lengthAdjust="spacing" >14E</text><text transform="scale(0.9 1)" x="307.61" y="552" font-size="11.4" font-weight="normal" textLength="19.78" lengthAdjust="spacing" >16E</text><text transform="scale(0.9 1)" x="368.72" y="552" font-size="11.4" font-weight="normal" textLength="19.78" lengthAdjust="spacing" >18E</text><text transform="scale(0.9 1)" x="429.83" y="552" font-size="11.4" font-weight="normal" textLength="19.78" lengthAdjust="spacing" >20E</text><text transform="scale(0.9 1)" x="492.06" y="552" font-size="11.4" font-weight="normal" textLength="19.78" lengthAdjust="spacing" >22E</text><text transform="scale(0.9 1)" x="553.17" y="552" font-size="11.4" font-weight="normal" textLength="19.78" lengthAdjust="spacing" >24E</text><text transform="scale(0.9 1)" x="614.28" y="552" font-size="11.4" font-weight="normal" textLength="19.78" lengthAdjust="spacing" >26E</text><text transform="scale(0.9 1)" x="675.39" y="552" font-size="11.4" font-weight="normal" textLength="19.78" lengthAdjust="spacing" >28E</text><text transform="scale(0.9 1)" x="737.61" y="552" font-size="11.4" font-weight="normal" textLength="19.78" lengthAdjust="spacing" >30E</text><text transform="scale(0.9 1)" x="798.72" y="552" font-size="11.4" font-weight="normal" textLength="19.78" lengthAdjust="spacing" >32E</text></g>
<g font-family="Liberation Sans" fill="#000" stroke="#000" stroke-width="0.2"><text transform="scale(0.95 1)" x="70.53" y="21" font-size="14.5" font-weight="normal" textLength="150.53" lengthAdjust="spacing" >NMMB_v1.0_10km</text><text transform="scale(0.95 1)" x="34.74" y="43" font-size="14.5" font-weight="normal" textLength="191.58" lengthAdjust="spacing" >1h Acc.Snow [cm/1h]</text><text transform="scale(0.95 1)" x="455.79" y="21" font-size="14.5" font-weight="normal" textLength="329.47" lengthAdjust="spacing" >initialisation: 2024.07.02.  00:00 UTC</text><text transform="scale(0.95 1)" x="453.26" y="43" font-size="14.5" font-weight="normal" textLength="319.37" lengthAdjust="spacing" >valid(+55h): 2024.JUL.04 07:00 UTC</text></g><g font-family="Liberation Sans" font-weight="bold" fill="#000"><text transform="scale(0.8 1)" x="5.50" y="616" font-size="10.8" font-weight="bold" textLength="107.62" lengthAdjust="spacing" >GrADS: COLA/IGES</text><text transform="scale(0.85 1)" x="804.47" y="616" font-size="10.8" font-weight="bold" textLength="111.65" lengthAdjust="spacing" >2024-07-02-07:30</text></g>
</svg></body></html>
